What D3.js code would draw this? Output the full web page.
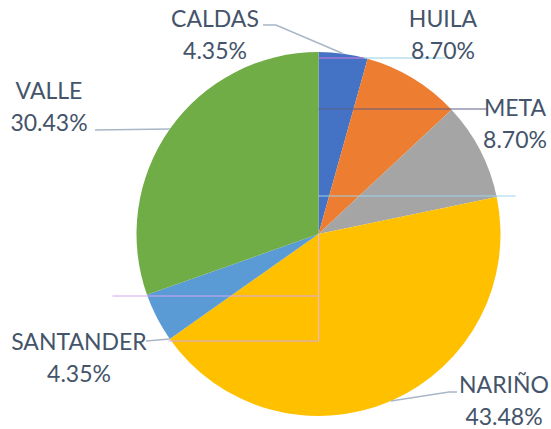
<!DOCTYPE html>
<html>
<head>
<meta charset="utf-8">
<script src="https://cdn.jsdelivr.net/npm/d3@7"></script>
<style>
  body { margin: 0; background: #fff; }
  text { font-family: Lato, "Open Sans", sans-serif; fill: #44546A; }
</style>
</head>
<body>
<svg id="chart" width="551" height="429"></svg>
<script>
var categories = ["CALDAS", "HUILA", "META", "NARIÑO", "SANTANDER", "VALLE"];
var values = [4.35, 8.70, 8.70, 43.48, 4.35, 30.43];
var colors = ["#4472C4", "#ED7D31", "#A5A5A5", "#FFC000", "#5B9BD5", "#70AD47"];

// label layout (centre x, first baseline), and where the leader leaves the label
var labelPos = [
    {x: 215, y: 27, line: [[263, 25], [276, 25]], anchor: "mid"},
    {x: 443, y: 27, line: null},
    {x: 515, y: 116, line: null},
    {x: 504, y: 393, line: [[457, 392], [449, 392]], anchor: "mid"},
    {x: 79, y: 350, line: [[146, 341]], anchor: "start"},
    {x: 49, y: 99, line: [[95, 130]], anchor: "mid"}
];

var cx = 318.5, cy = 234, radius = 182;
var svg = d3.select("#chart");
var g = svg.append("g").attr("transform", "translate(" + cx + "," + cy + ")");

var pie = d3.pie().sort(null).value(function (d) { return d; });
var arcs = pie(values);
var arc = d3.arc().innerRadius(0).outerRadius(radius);

g.selectAll("path.slice").data(arcs).enter().append("path")
    .attr("class", "slice")
    .attr("d", arc)
    .style("fill", function (d, i) { return colors[i]; });

// stray guide lines that show up in the original export
var guides = [
    {x1: 0, y1: -176, x2: 127, y2: -176, c: "#8fd0e6"},
    {x1: 0, y1: -176, x2: 45, y2: -176, c: "#b04ad0"},
    {x1: 0, y1: -125, x2: 168, y2: -125, c: "#5d5f85"},
    {x1: 0, y1: -38, x2: 197, y2: -38, c: "#9fd3ea"},
    {x1: -206, y1: 62, x2: 0, y2: 62, c: "#d2a6f2"},
    {x1: 0, y1: 0, x2: 0, y2: 107, c: "#e4b8ee"},
    {x1: -150, y1: 107, x2: 0, y2: 107, c: "#d2a6f2"}
];
g.selectAll("line.guide").data(guides).enter().append("line")
    .attr("class", "guide")
    .attr("x1", function (d) { return d.x1; })
    .attr("y1", function (d) { return d.y1; })
    .attr("x2", function (d) { return d.x2; })
    .attr("y2", function (d) { return d.y2; })
    .style("stroke", function (d) { return d.c; })
    .style("stroke-width", 1);

// leader lines
arcs.forEach(function (d, i) {
    var p = labelPos[i];
    if (!p.line) return;
    var a = p.anchor == "start" ? d.startAngle : (d.startAngle + d.endAngle) / 2;
    var end = [cx + radius * Math.sin(a), cy - radius * Math.cos(a)];
    svg.append("path")
        .attr("d", d3.line()(p.line.concat([end])))
        .style("fill", "none")
        .style("stroke", "#A9B6C8")
        .style("stroke-width", 1.5);
});

// labels
var lbl = svg.selectAll("text.label").data(arcs).enter().append("text")
    .attr("class", "label")
    .attr("text-anchor", "middle")
    .style("font-size", "23px");
lbl.append("tspan")
    .attr("x", function (d, i) { return labelPos[i].x; })
    .attr("y", function (d, i) { return labelPos[i].y; })
    .text(function (d, i) { return categories[i]; });
lbl.append("tspan")
    .attr("x", function (d, i) { return labelPos[i].x; })
    .attr("y", function (d, i) { return labelPos[i].y + 32; })
    .text(function (d) { return d.data.toFixed(2) + "%"; });
</script>
</body>
</html>
